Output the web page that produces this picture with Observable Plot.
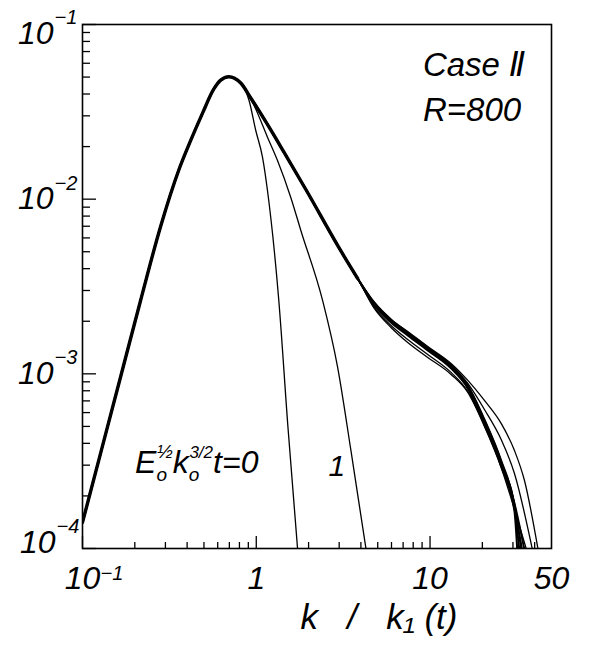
<!DOCTYPE html>
<html><head><meta charset="utf-8">
<script src="https://cdn.jsdelivr.net/npm/d3@7"></script>
<script src="https://cdn.jsdelivr.net/npm/@observablehq/plot@0.6"></script>
<style>body{margin:0;background:#fff} #chart svg{display:block}</style>
</head><body><div id="chart"></div>
<script>
// ---- data (k/k1(t), E) ----
// shared rising part of all spectra
const headK = [0.1, 0.1287, 0.1679, 0.2159, 0.2815, 0.3575, 0.4195, 0.4915, 0.5689, 0.6243, 0.6942, 0.8141];
const headE = [1.411e-4, 3.681e-4, 1.011e-3, 2.631e-3, 6.98e-3, 0.01460, 0.02168, 0.03119, 0.04261, 0.04805, 0.05026, 0.04625];
// t = 0
const t0K = [0.9090, 0.9934, 1.086, 1.160, 1.348, 1.519, 1.728];
const t0E = [0.03673, 0.02472, 0.01739, 0.01121, 2.631e-3, 5.065e-4, 1e-4];
// t = 1
const t1K = [0.9712, 1.160, 1.325, 1.580, 1.805, 2.408, 2.938, 3.505, 4.277];
const t1E = [0.03438, 0.02264, 0.01665, 0.01023, 6.62e-3, 2.631e-3, 1.092e-3, 3.642e-4, 1e-4];
// later times: common part of the collapsed bundle
const bundleK = [0.9296, 1.212, 1.446, 1.929, 3.069, 3.831];
const bundleE = [0.03797, 0.02489, 0.01851, 0.01136, 5.051e-3, 3.516e-3];
// later times: individual tails
const tailK = [4.775, 5.960, 7.439, 9.699, 13.21, 16.50, 20.56, 25.66, 30.61];
const tailE2 = [2.563e-3, 2.048e-3, 1.726e-3, 1.416e-3, 1.117e-3, 8.58e-4, 5.48e-4, 3.19e-4, 1.788e-4];
const tailE3 = [2.529e-3, 2.021e-3, 1.703e-3, 1.398e-3, 1.103e-3, 8.36e-4, 5.27e-4, 3.07e-4, 1.718e-4];
const tailE4 = [2.496e-3, 1.995e-3, 1.681e-3, 1.379e-3, 1.088e-3, 8.47e-4, 5.41e-4, 3.15e-4, 1.812e-4];
const tailE5 = [2.463e-3, 1.969e-3, 1.659e-3, 1.361e-3, 1.074e-3, 8.25e-4, 5.13e-4, 2.95e-4, 1.630e-4];
const tailE6 = [2.398e-3, 1.893e-3, 1.573e-3, 1.291e-3, 1.019e-3, 7.93e-4, 5.07e-4, 2.99e-4, 1.696e-4];
const tailE7 = [2.367e-3, 1.843e-3, 1.512e-3, 1.241e-3, 9.92e-4, 7.82e-4, 5.00e-4, 2.91e-4, 1.674e-4];
const tailE8 = [2.529e-3, 2.021e-3, 1.726e-3, 1.416e-3, 1.132e-3, 8.81e-4, 6.25e-4, 4.21e-4, 2.69e-4];
const tailK9 = [4.775, 5.960, 7.439, 9.699, 13.21, 16.50, 20.56, 25.66, 30.61, 34.95];
const tailE9 = [2.563e-3, 2.048e-3, 1.749e-3, 1.435e-3, 1.147e-3, 9.17e-4, 7.04e-4, 5.20e-4, 3.64e-4, 2.45e-4];
const tailNames = ["t2", "t3", "t4", "t5", "t6", "t7", "t8", "t9"];
const tailEs = [tailE2, tailE3, tailE4, tailE5, tailE6, tailE7, tailE8, tailE9];
const endK = [33.45, 32.58, 34.81, 31.72, 33.90, 35.75, 38.71, 41.76];
const endE = 1e-4;
const thickNames = ["t2", "t3", "t4", "t5"];

// ticks and labels
const xMajorTicks = [0.1, 1, 10];
const xMinorTicks = [0.2, 0.3, 0.4, 0.5, 0.6, 0.7, 0.8, 0.9, 2, 3, 4, 5, 6, 7, 8, 9, 20, 30, 40];
const yMajorTicks = [1e-4, 1e-3, 1e-2, 1e-1];
const yMinorTicks = [2e-4, 3e-4, 4e-4, 5e-4, 6e-4, 7e-4, 8e-4, 9e-4,
                     2e-3, 3e-3, 4e-3, 5e-3, 6e-3, 7e-3, 8e-3, 9e-3,
                     2e-2, 3e-2, 4e-2, 5e-2, 6e-2, 7e-2, 8e-2, 9e-2];
const xLabelValues = [0.1, 1, 10, 50];
const xLabelBase = ["10", "1", "10", "50"];
const xLabelExp = ["−1", "", "", ""];
const yLabelValues = [1e-1, 1e-2, 1e-3, 1e-4];
const yLabelExp = ["−1", "−2", "−3", "−4"];
const xTitle = "k\u00a0\u00a0\u00a0/\u00a0\u00a0\u00a0k₁\u00a0(t)";
const notes = ["Case Ⅱ", "R=800"];
const notesK = [9.1, 9.1];
const notesE = [0.051, 0.0282];
const timeLabelK = [0.202, 2.60];
const timeLabelE = [2.7e-4, 2.6e-4];

// ---- build rows ----
const rows = [];
function add(name, ks, es) { ks.forEach((k, i) => rows.push({curve: name, k, E: es[i]})); }
add("t0", headK.concat(t0K), headE.concat(t0E));
add("t1", headK.concat(t1K), headE.concat(t1E));
tailNames.forEach((n, j) => {
  const tk = n === "t9" ? tailK9 : tailK;
  add(n, headK.concat(bundleK, tk, [endK[j]]), headE.concat(bundleE, tailEs[j], [endE]));
});
const spineK = headK.concat(bundleK), spineE = headE.concat(bundleE);
const spine = spineK.map((k, i) => ({curve: "spine", k, E: spineE[i]}));

const W = 593, H = 656, mL = 82, mR = 42, mT = 24, mB = 108;
const innerW = W - mL - mR, innerH = H - mT - mB;
const FONT = "'Liberation Sans', Arial, 'DejaVu Sans', sans-serif";
const yLab = (idx) => yLabelValues.filter((d, i) => idx.includes(i));

const chart = Plot.plot({
  width: W, height: H,
  marginLeft: mL, marginRight: mR, marginTop: mT, marginBottom: mB,
  style: {background: "#fff", fontFamily: FONT},
  x: {type: "log", domain: [0.1, 50], axis: null},
  y: {type: "log", domain: [1e-4, 1e-1], axis: null},
  marks: [
    Plot.line(rows.filter(d => !thickNames.includes(d.curve)), {x: "k", y: "E", z: "curve", curve: "monotone-x", stroke: "black", strokeWidth: 1.3, clip: true}),
    Plot.line(rows.filter(d => thickNames.includes(d.curve)), {x: "k", y: "E", z: "curve", curve: "monotone-x", stroke: "black", strokeWidth: 2, clip: true}),
    Plot.line(spine, {x: "k", y: "E", curve: "monotone-x", stroke: "black", strokeWidth: 3.4, clip: true}),
    Plot.ruleX(xMajorTicks, {x: d => d, stroke: "black", strokeWidth: 1.3, insetTop: innerH - 12}),
    Plot.ruleX(xMinorTicks, {x: d => d, stroke: "black", strokeWidth: 1.3, insetTop: innerH - 6}),
    Plot.ruleY(yMajorTicks, {y: d => d, stroke: "black", strokeWidth: 1.3, insetRight: innerW - 14}),
    Plot.ruleY(yMinorTicks, {y: d => d, stroke: "black", strokeWidth: 1.3, insetRight: innerW - 8}),
    Plot.frame({stroke: "black", strokeWidth: 1.6}),
    // y tick labels (top label sits a little lower, bottom a little higher, as in the figure)
    Plot.text(yLab([0]), {y: d => d, text: () => "10", frameAnchor: "left", textAnchor: "end", dx: -29, dy: 9, fontSize: 32, fontStyle: "italic"}),
    Plot.text(yLab([0]), {y: d => d, text: d => yLabelExp[yLabelValues.indexOf(d)], frameAnchor: "left", textAnchor: "start", dx: -28, dy: -7, fontSize: 20, fontStyle: "italic"}),
    Plot.text(yLab([1, 2]), {y: d => d, text: () => "10", frameAnchor: "left", textAnchor: "end", dx: -29, fontSize: 32, fontStyle: "italic"}),
    Plot.text(yLab([1, 2]), {y: d => d, text: d => yLabelExp[yLabelValues.indexOf(d)], frameAnchor: "left", textAnchor: "start", dx: -28, dy: -16, fontSize: 20, fontStyle: "italic"}),
    Plot.text(yLab([3]), {y: d => d, text: () => "10", frameAnchor: "left", textAnchor: "end", dx: -27, dy: -6, fontSize: 32, fontStyle: "italic"}),
    Plot.text(yLab([3]), {y: d => d, text: d => yLabelExp[yLabelValues.indexOf(d)], frameAnchor: "left", textAnchor: "start", dx: -26, dy: -22, fontSize: 20, fontStyle: "italic"}),
    // x tick labels
    Plot.text(xLabelValues, {x: d => d, text: (d, i) => xLabelBase[i], frameAnchor: "bottom", dy: 40, fontSize: 32, fontStyle: "italic"}),
    Plot.text(xLabelValues.filter((d, i) => xLabelExp[i]), {x: d => d, text: d => xLabelExp[xLabelValues.indexOf(d)], frameAnchor: "bottom", textAnchor: "start", dx: 18, dy: 31, fontSize: 20, fontStyle: "italic"}),
    // axis title
    Plot.text([xTitle], {text: d => d, frameAnchor: "bottom", dx: 62, dy: 80, fontSize: 35, fontStyle: "italic"}),
    // annotations
    Plot.text(notes, {x: (d, i) => notesK[i], y: (d, i) => notesE[i], text: d => d, textAnchor: "start", lineAnchor: "bottom", fontSize: 33, fontStyle: "italic"}),
    Plot.text(["1"], {x: () => timeLabelK[1], y: () => timeLabelE[1], text: d => d, textAnchor: "start", lineAnchor: "bottom", fontSize: 30, fontStyle: "italic"})
  ]
});
document.getElementById("chart").appendChild(chart);

// rich label E0^(1/2) k0^(3/2) t = 0, positioned through the plot's scales
const sx = chart.scale("x"), sy = chart.scale("y");
const t = d3.select(chart).append("text")
  .attr("x", sx.apply(timeLabelK[0])).attr("y", sy.apply(timeLabelE[0]))
  .attr("text-anchor", "start")
  .attr("font-family", FONT).attr("font-style", "italic").attr("font-size", 32).attr("fill", "black");
t.append("tspan").text("E");
t.append("tspan").attr("font-size", 19).attr("dy", 8).text("o");
t.append("tspan").attr("font-size", 19).attr("dx", -10).attr("dy", -23).text("½");
t.append("tspan").attr("font-size", 32).attr("dy", 15).text("k");
t.append("tspan").attr("font-size", 19).attr("dy", 8).text("o");
t.append("tspan").attr("font-size", 17).attr("dx", -10).attr("dy", -23).text("3/2");
t.append("tspan").attr("font-size", 32).attr("dy", 15).text("t=0");
</script>
</body></html>
